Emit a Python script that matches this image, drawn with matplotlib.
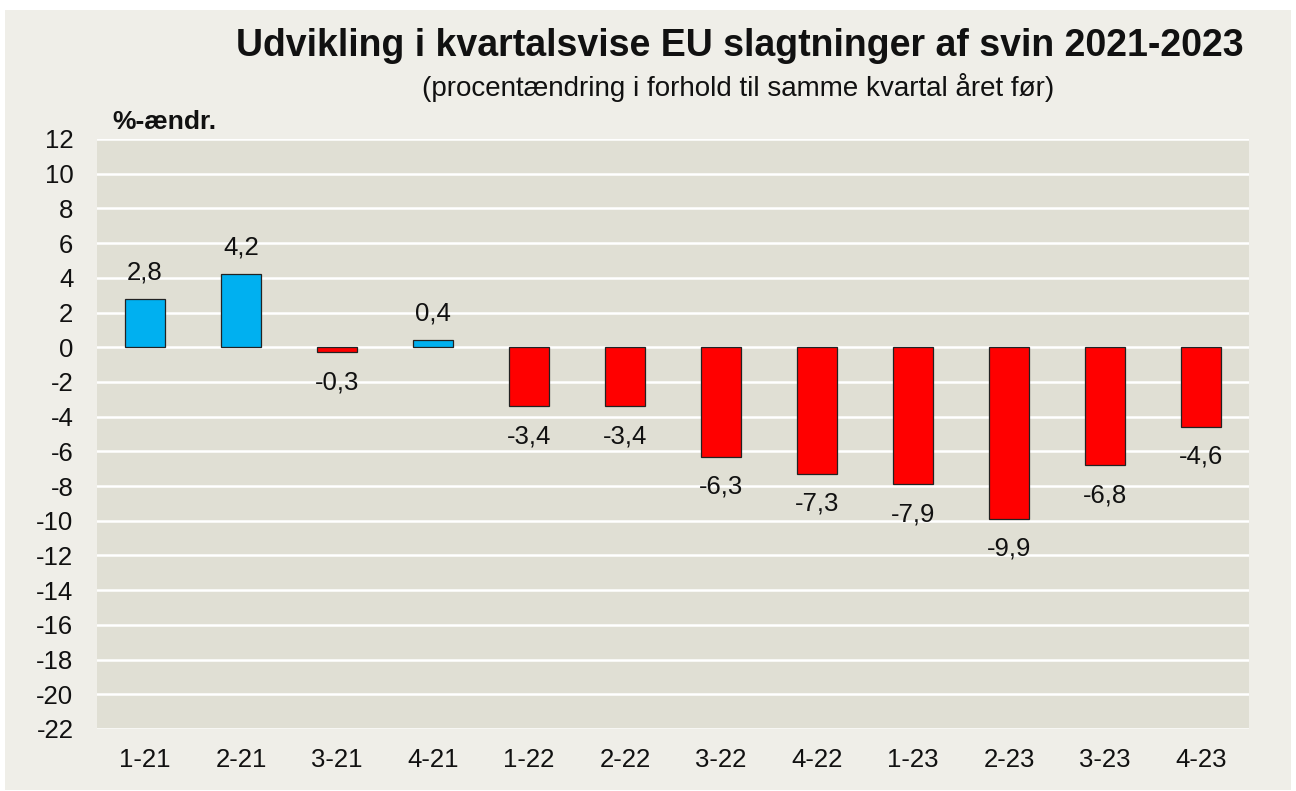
import matplotlib
matplotlib.use("Agg")
import matplotlib.pyplot as plt
from matplotlib.patches import Rectangle
from matplotlib.ticker import FuncFormatter

categories = ["1-21", "2-21", "3-21", "4-21", "1-22", "2-22", "3-22", "4-22",
              "1-23", "2-23", "3-23", "4-23"]
values = [2.8, 4.2, -0.3, 0.4, -3.4, -3.4, -6.3, -7.3, -7.9, -9.9, -6.8, -4.6]
yticks = list(range(-22, 13, 2))

title = "Udvikling i kvartalsvise EU slagtninger af svin 2021-2023"
subtitle = "(procentændring i forhold til samme kvartal året før)"
ylabel = "%-ændr."

plt.rcParams['font.family'] = ['Liberation Sans', 'DejaVu Sans']

W, H = 1296, 791
fig = plt.figure(figsize=(W / 100, H / 100), dpi=100)
fig.patch.set_facecolor("white")
fig.patches.append(Rectangle((5 / W, 1 - 790 / H), (1291 - 5) / W, (790 - 10) / H,
                             transform=fig.transFigure, facecolor="#efeee8",
                             edgecolor="none", zorder=-10))

left, right, top, bottom = 97, 1249, 139, 729
ax = fig.add_axes([left / W, 1 - bottom / H, (right - left) / W, (bottom - top) / H])
ax.set_facecolor("#e0dfd4")

FS = 18.5
x = list(range(len(categories)))
colors = ["#00b0f0" if v >= 0 else "#ff0000" for v in values]
ax.bar(x, values, width=0.41, color=colors, edgecolor="#222222", linewidth=0.9, zorder=3)

for xi, v in zip(x, values):
    lab = f"{v:.1f}".replace(".", ",")
    if v >= 0:
        ax.annotate(lab, (xi, v), xytext=(0, 19), textcoords="offset points",
                    ha="center", va="center", fontsize=FS, color="#111111")
    else:
        ax.annotate(lab, (xi, v), xytext=(0, -21.5), textcoords="offset points",
                    ha="center", va="center", fontsize=FS, color="#111111")

ax.set_xlim(-0.5, len(categories) - 0.5)
ax.set_ylim(-22, 12)
ax.set_yticks(yticks)
ax.yaxis.set_major_formatter(FuncFormatter(lambda v, p: f"{int(v)}"))
ax.set_xticks(x)
ax.set_xticklabels(categories)
ax.tick_params(axis="both", length=0, labelsize=FS, colors="#111111")
ax.tick_params(axis="x", pad=14)
ax.tick_params(axis="y", pad=17)
ax.grid(axis="y", color="white", linewidth=1.8, zorder=1)
ax.set_axisbelow(True)
for s in ax.spines.values():
    s.set_visible(False)

fig.text(740 / W, 1 - 46 / H, title, ha="center", va="center",
         fontsize=27, fontweight="bold", color="#111111")
fig.text(738 / W, 1 - 88 / H, subtitle, ha="center", va="center",
         fontsize=20, color="#111111")
fig.text(112 / W, 1 - 122 / H, ylabel, ha="left", va="center",
         fontsize=19, fontweight="bold", color="#111111")

fig.savefig("out.png", dpi=100, facecolor=fig.get_facecolor())
